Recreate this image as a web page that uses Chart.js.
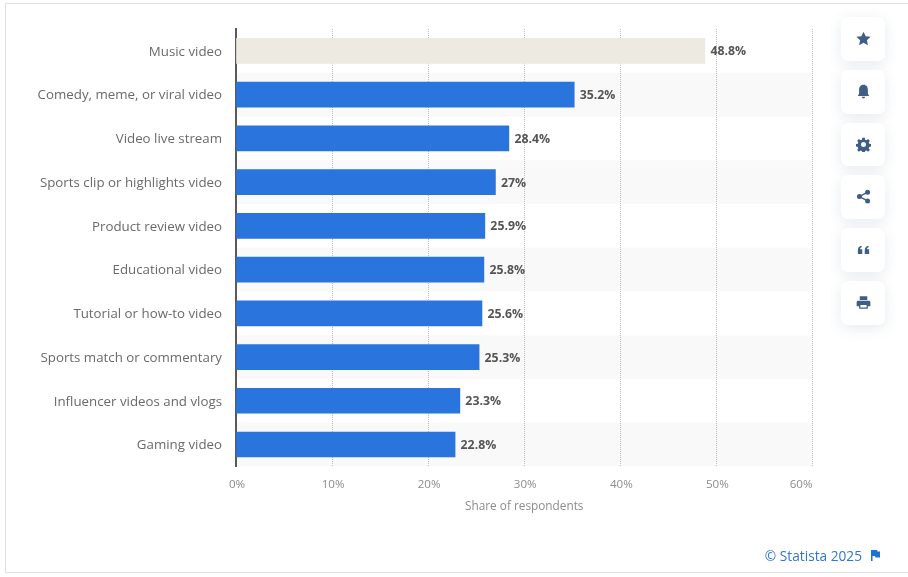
<!DOCTYPE html>
<html>
<head>
<meta charset="utf-8">
<title>Share of respondents by video type</title>
<script src="https://cdn.jsdelivr.net/npm/chart.js@4"></script>
<style>
  html, body { margin: 0; padding: 0; background: #fff; overflow: hidden; }
  #wrap { position: relative; width: 908px; height: 577px; }
  #frame { position: absolute; left: 5px; top: 3px; width: 920px; height: 570px; box-sizing: border-box; border: 1px solid #e2e2e2; }
  #chart { position: absolute; left: 0; top: 0; }
  .btn { position: absolute; left: 841px; width: 44px; height: 43.5px; background: #fff; border-radius: 7px; box-shadow: 0 3px 14px rgba(70,90,130,.13); display: flex; align-items: center; justify-content: center; }
  .btn svg { width: 15px; height: 15px; fill: #3f5d85; display: block; }
  #credit { position: absolute; right: 28px; top: 546px; font: 13.7px "Open Sans", sans-serif; color: #2f76d8; display: flex; align-items: center; gap: 9px; white-space: nowrap; }
  #credit svg { width: 9px; height: 11px; fill: #1f6fe0; }
</style>
</head>
<body>
<div id="wrap">
  <div id="frame"></div>
  <canvas id="chart" width="908" height="577"></canvas>
  <div class="btn" style="top:17px"><svg viewBox="0 0 24 24"><path d="M12 1l3.400 7.400 8 .9-6 5.400 1.700 8L12 18.700l-7.100 4 1.700-8-6-5.400 8-.9z"/></svg></div>
  <div class="btn" style="top:70px"><svg viewBox="0 0 24 24"><path d="M12 1c5 0 7 4 7 8v6l2 4H3l2-4V9c0-4 2-8 7-8zM9.500 20.500h5c0 1.500-1 2.500-2.500 2.500s-2.500-1-2.500-2.500z"/></svg></div>
  <div class="btn" style="top:122.500px"><svg viewBox="0 0 24 24"><path fill-rule="evenodd" d="M10 1h4l.6 3.200 2 .8 2.700-1.800 2.800 2.800-1.800 2.700.8 2 3 .6v4l-3 .6-.8 2 1.800 2.700-2.800 2.800-2.700-1.800-2 .8-.6 3h-4l-.6-3-2-.8-2.700 1.800-2.800-2.800 1.800-2.700-.8-2-3-.6v-4l3-.6.8-2L1.900 6l2.800-2.800 2.700 1.800 2-.8zM12 8a4 4 0 1 0 0 8 4 4 0 0 0 0-8z"/></svg></div>
  <div class="btn" style="top:175px"><svg viewBox="0 0 24 24"><circle cx="18.500" cy="5" r="4"/><circle cx="5.500" cy="12" r="4"/><circle cx="18.500" cy="19" r="4"/><path d="M5 11l13-7 1 2-13 7zM6 11l13 7-1 2-13-7z"/></svg></div>
  <div class="btn" style="top:228px"><svg viewBox="0 0 24 24"><path d="M3 19v-6c0-4 2-6 6-7v2.500c-1.500.5-2.500 1.500-2.500 3H10V19zM14 19v-6c0-4 2-6 6-7v2.500c-1.500.5-2.500 1.500-2.500 3H21V19z"/></svg></div>
  <div class="btn" style="top:281px"><svg viewBox="0 0 24 24"><path fill-rule="evenodd" d="M6 2h12v6H6zM4 9h16c2 0 3 1 3 3v6h-4v4H5v-4H1v-6c0-2 1-3 3-3zm3 7v4h10v-4z"/></svg></div>
  <div id="credit"><span>© Statista 2025</span><svg viewBox="0 0 9 11"><path d="M0 0h6l.5 1.500H9v6H4.500L4 6H1.500v5H0z"/></svg></div>
</div>
<script>
const categories = ['Music video', 'Comedy, meme, or viral video', 'Video live stream', 'Sports clip or highlights video', 'Product review video', 'Educational video', 'Tutorial or how-to video', 'Sports match or commentary', 'Influencer videos and vlogs', 'Gaming video']
const shares = [48.8, 35.2, 28.4, 27, 25.9, 25.8, 25.6, 25.3, 23.3, 22.8]
const barColors = ['#edeae1', '#2a74dd', '#2a74dd', '#2a74dd', '#2a74dd', '#2a74dd', '#2a74dd', '#2a74dd', '#2a74dd', '#2a74dd']
const fontFamily = '"Open Sans", sans-serif'

// alternating row shading behind the grid
const rowBands = {
  id: 'rowBands',
  beforeDraw(chart) {
    const { ctx, chartArea, scales: { y } } = chart
    const step = y.getPixelForValue(1) - y.getPixelForValue(0)
    ctx.save()
    ctx.fillStyle = '#f9f9f9'
    categories.forEach((_, i) => {
      if (i % 2) ctx.fillRect(chartArea.left, y.getPixelForValue(i) - step / 2, chartArea.width, step)
    })
    ctx.restore()
  }
}

// last x tick label ends at the plot edge, the others and the category labels nudge by a pixel
const tickTweaks = {
  id: 'tickTweaks',
  beforeDraw(chart) {
    const xItems = chart.scales.x.getLabelItems(chart.chartArea)
    xItems.forEach((item, i) => {
      if (i === xItems.length - 1) item.options.textAlign = 'right'
      else item.options.translation[0] += 1
    })
    chart.scales.y.getLabelItems(chart.chartArea).forEach(item => { item.options.translation[1] += 1 })
  }
}

const valueLabels = {
  id: 'valueLabels',
  afterDatasetsDraw(chart) {
    const { ctx } = chart
    ctx.save()
    ctx.font = 'bold 12.3px ' + fontFamily
    ctx.fillStyle = '#555'
    ctx.textAlign = 'left'
    ctx.textBaseline = 'middle'
    chart.getDatasetMeta(0).data.forEach((bar, i) => {
      ctx.fillText(shares[i] + '%', bar.x + 5.5, bar.y + 1)
    })
    ctx.restore()
  }
}

new Chart(document.getElementById('chart'), {
  type: 'bar',
  data: { labels: categories, datasets: [{ data: shares, backgroundColor: barColors, barThickness: 25, borderWidth: 0 }] },
  plugins: [rowBands, tickTweaks, valueLabels],
  options: {
    indexAxis: 'y',
    responsive: false,
    animation: false,
    events: [],
    layout: { padding: { top: 29, right: 95.5, bottom: 63, left: 0 } },
    plugins: { legend: { display: false }, tooltip: { enabled: false } },
    scales: {
      x: {
        min: 0,
        max: 60,
        afterFit(scale) { scale.height = 47.6 },
        grid: { color: '#bdbdbd', drawTicks: false, tickBorderDash: [1, 1] },
        border: { display: false, dash: [1, 1] },
        ticks: { stepSize: 10, padding: 11, maxRotation: 0, color: '#8c8c8c', font: { family: fontFamily, size: 11.6 }, callback: v => v + '%' },
        title: { display: true, text: 'Share of respondents', color: '#8c8c8c', font: { family: fontFamily, size: 11.8 }, padding: { top: 7, bottom: 0 } }
      },
      y: {
        afterFit(scale) { scale.width = 236 },
        grid: { display: false },
        border: { display: true, color: '#5a5a5a', width: 2 },
        ticks: { padding: 6, color: '#6a6a6a', font: { family: fontFamily, size: 13.3 }, autoSkip: false }
      }
    }
  }
})
</script>
</body>
</html>
